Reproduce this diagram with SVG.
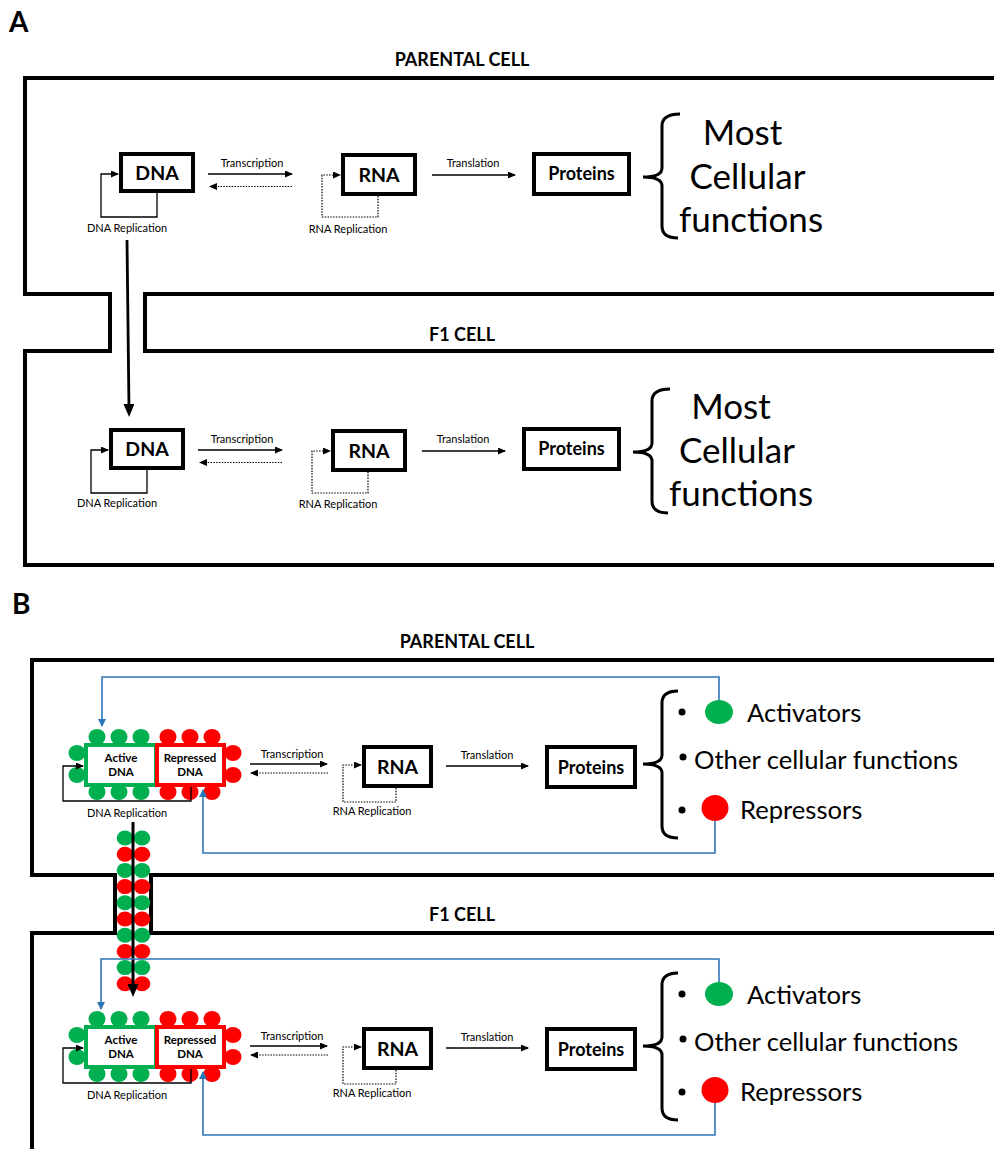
<svg xmlns="http://www.w3.org/2000/svg" width="994" height="1149" viewBox="0 0 994 1149">
<defs>
<style>
text{font-family:Lato,"Liberation Sans",sans-serif;fill:#000}
.b{font-weight:bold}
.sm{font-size:11px;text-anchor:middle}
.box{fill:#fff;stroke:#000;stroke-width:4}
.gbox{fill:#fff;stroke:#00B050;stroke-width:4}
.rbox{fill:#fff;stroke:#FF0000;stroke-width:4}
.wall{fill:none;stroke:#000;stroke-width:4}
.ln{fill:none;stroke:#000;stroke-width:1.3}
.dt{fill:none;stroke:#000;stroke-width:1.2;stroke-dasharray:1.5 1.3}
.bl{fill:none;stroke:#2E75B6;stroke-width:1.6}
.br{fill:none;stroke:#000;stroke-width:3}
.g{fill:#00B050}
.r{fill:#FF0000}
.big{font-size:35px;text-anchor:middle}
.mid{font-size:25.6px}
</style>
<marker id="ah" markerUnits="userSpaceOnUse" markerWidth="8" markerHeight="7" refX="7" refY="3.5" orient="auto"><path d="M0,0 L8,3.5 L0,7 z" fill="#000"/></marker>
<marker id="ahb" markerUnits="userSpaceOnUse" markerWidth="8" markerHeight="8" refX="7" refY="4" orient="auto"><path d="M0,0 L8,4 L0,8 z" fill="#2E75B6"/></marker>
<marker id="ahL" markerUnits="userSpaceOnUse" markerWidth="13" markerHeight="11" refX="5" refY="5.5" orient="auto"><path d="M0,0 L13,5.5 L0,11 z" fill="#000"/></marker>
</defs>
<rect width="994" height="1149" fill="#fff"/>

<!-- Panel labels -->
<g id="labels">
<text x="9" y="32" class="b" font-size="28">A</text>
<text x="12" y="614" class="b" font-size="28">B</text>
<text x="462" y="66" class="b" font-size="18" text-anchor="middle">PARENTAL CELL</text>
<text x="462" y="341" class="b" font-size="18" text-anchor="middle">F1 CELL</text>
<text x="467" y="648" class="b" font-size="18" text-anchor="middle">PARENTAL CELL</text>
<text x="462" y="921" class="b" font-size="18" text-anchor="middle">F1 CELL</text>
</g>

<!-- Cell walls -->
<g id="cells">
<path class="wall" d="M994,78 H25 V294 H110 V351 H25 V565 H994"/>
<path class="wall" d="M994,294 H145 V351 H994"/>
<path class="wall" d="M994,660 H32 V875 H115 V933 H32 V1149"/>
<path class="wall" d="M994,875 H151 V933 H994"/>
</g>

<!-- Panel A parental -->
<g id="a-par-dna"><rect class="box" x="121" y="154" width="72" height="37"/><text x="157" y="180" class="b" font-size="19.5" text-anchor="middle">DNA</text></g>
<g id="a-par-rna"><rect class="box" x="343" y="155" width="72" height="39"/><text x="379" y="182" class="b" font-size="19.5" text-anchor="middle">RNA</text></g>
<g id="a-par-proteins"><rect class="box" x="534" y="154" width="95" height="40"/><text x="581.5" y="180" class="b" font-size="18" text-anchor="middle">Proteins</text></g>
<g id="a-par-functions">
<path class="br" d="M680,114 Q662,114 662,126 L662,168 Q662,177 643,177 Q662,177 662,186 L662,226 Q662,238 678,238"/>
<text x="742.5" y="145" class="big">Most</text>
<text x="747.5" y="189" class="big">Cellular</text>
<text x="751" y="232" class="big">functions</text>
</g>

<!-- Panel A F1 -->
<g id="a-f1-dna"><rect class="box" x="111" y="430" width="72" height="38"/><text x="147" y="456" class="b" font-size="19.5" text-anchor="middle">DNA</text></g>
<g id="a-f1-rna"><rect class="box" x="333" y="431" width="72" height="39"/><text x="369" y="458" class="b" font-size="19.5" text-anchor="middle">RNA</text></g>
<g id="a-f1-proteins"><rect class="box" x="524" y="429" width="95" height="40"/><text x="571.5" y="455" class="b" font-size="18" text-anchor="middle">Proteins</text></g>
<g id="a-f1-functions">
<path class="br" d="M670,389 Q652,389 652,401 L652,443 Q652,452 633,452 Q652,452 652,461 L652,501 Q652,513 668,513"/>
<text x="731" y="419" class="big">Most</text>
<text x="737" y="463" class="big">Cellular</text>
<text x="741" y="506" class="big">functions</text>
</g>

<!-- Panel B parental -->
<g id="b-par-dna">
<ellipse class="g" cx="97" cy="737" rx="8.5" ry="8"/><ellipse class="g" cx="119" cy="737" rx="8.5" ry="8"/><ellipse class="g" cx="141" cy="737" rx="8.5" ry="8"/>
<ellipse class="r" cx="168" cy="737" rx="8.5" ry="8"/><ellipse class="r" cx="190" cy="737" rx="8.5" ry="8"/><ellipse class="r" cx="212" cy="737" rx="8.5" ry="8"/>
<ellipse class="g" cx="97" cy="792" rx="8.5" ry="8"/><ellipse class="g" cx="119" cy="792" rx="8.5" ry="8"/><ellipse class="g" cx="141" cy="792" rx="8.5" ry="8"/>
<ellipse class="r" cx="168" cy="792" rx="8.5" ry="8"/><ellipse class="r" cx="190" cy="792" rx="8.5" ry="8"/><ellipse class="r" cx="212" cy="792" rx="8.5" ry="8"/>
<ellipse class="g" cx="77" cy="753" rx="8.5" ry="8"/><ellipse class="g" cx="77" cy="775" rx="8.5" ry="8"/>
<ellipse class="r" cx="233" cy="753" rx="8.5" ry="8"/><ellipse class="r" cx="233" cy="775" rx="8.5" ry="8"/>
<rect class="gbox" x="86" y="745" width="70" height="40"/>
<rect class="rbox" x="157" y="745" width="67" height="40"/>
<text x="121" y="762" class="b" font-size="11.5" text-anchor="middle">Active</text>
<text x="121" y="776" class="b" font-size="11.5" text-anchor="middle">DNA</text>
<text x="190" y="762" class="b" font-size="11.5" text-anchor="middle">Repressed</text>
<text x="190" y="776" class="b" font-size="11.5" text-anchor="middle">DNA</text>
</g>
<g id="b-par-rna"><rect class="box" x="364" y="747" width="67" height="39"/><text x="397.5" y="774" class="b" font-size="19.5" text-anchor="middle">RNA</text></g>
<g id="b-par-proteins"><rect class="box" x="547" y="747" width="88" height="40"/><text x="591" y="774" class="b" font-size="18" text-anchor="middle">Proteins</text></g>
<g id="b-par-functions">
<path class="br" d="M678,691 Q662,691 662,703 L662,755 Q662,764 643,764 Q662,764 662,773 L662,826 Q662,838 678,838"/>
<circle cx="682" cy="712" r="3.5"/><circle cx="683" cy="757" r="3.5"/><circle cx="682" cy="810" r="3.5"/>
<ellipse class="g" cx="719" cy="712" rx="14" ry="12"/>
<ellipse class="r" cx="715" cy="808" rx="13.5" ry="13"/>
<text x="747" y="722" class="mid">Activators</text>
<text x="694" y="769" class="mid">Other cellular functions</text>
<text x="740" y="819" class="mid">Repressors</text>
</g>

<!-- Chromatin stack -->
<g id="b-stack">
<ellipse class="g" cx="125" cy="838" rx="8.3" ry="7.5"/><ellipse class="g" cx="142" cy="838" rx="8.3" ry="7.5"/>
<ellipse class="r" cx="125" cy="854.2" rx="8.3" ry="7.5"/><ellipse class="r" cx="142" cy="854.2" rx="8.3" ry="7.5"/>
<ellipse class="g" cx="125" cy="870.4" rx="8.3" ry="7.5"/><ellipse class="g" cx="142" cy="870.4" rx="8.3" ry="7.5"/>
<ellipse class="r" cx="125" cy="886.6" rx="8.3" ry="7.5"/><ellipse class="r" cx="142" cy="886.6" rx="8.3" ry="7.5"/>
<ellipse class="g" cx="125" cy="902.8" rx="8.3" ry="7.5"/><ellipse class="g" cx="142" cy="902.8" rx="8.3" ry="7.5"/>
<ellipse class="r" cx="125" cy="919" rx="8.3" ry="7.5"/><ellipse class="r" cx="142" cy="919" rx="8.3" ry="7.5"/>
<ellipse class="g" cx="125" cy="935.2" rx="8.3" ry="7.5"/><ellipse class="g" cx="142" cy="935.2" rx="8.3" ry="7.5"/>
<ellipse class="r" cx="125" cy="951.4" rx="8.3" ry="7.5"/><ellipse class="r" cx="142" cy="951.4" rx="8.3" ry="7.5"/>
<ellipse class="g" cx="125" cy="967.6" rx="8.3" ry="7.5"/><ellipse class="g" cx="142" cy="967.6" rx="8.3" ry="7.5"/>
<ellipse class="r" cx="125" cy="983.8" rx="8.3" ry="7.5"/><ellipse class="r" cx="142" cy="983.8" rx="8.3" ry="7.5"/>
</g>

<!-- Panel B F1 -->
<g id="b-f1-dna">
<ellipse class="g" cx="97" cy="1019" rx="8.5" ry="8"/><ellipse class="g" cx="119" cy="1019" rx="8.5" ry="8"/><ellipse class="g" cx="141" cy="1019" rx="8.5" ry="8"/>
<ellipse class="r" cx="168" cy="1019" rx="8.5" ry="8"/><ellipse class="r" cx="190" cy="1019" rx="8.5" ry="8"/><ellipse class="r" cx="212" cy="1019" rx="8.5" ry="8"/>
<ellipse class="g" cx="97" cy="1074" rx="8.5" ry="8"/><ellipse class="g" cx="119" cy="1074" rx="8.5" ry="8"/><ellipse class="g" cx="141" cy="1074" rx="8.5" ry="8"/>
<ellipse class="r" cx="168" cy="1074" rx="8.5" ry="8"/><ellipse class="r" cx="190" cy="1074" rx="8.5" ry="8"/><ellipse class="r" cx="212" cy="1074" rx="8.5" ry="8"/>
<ellipse class="g" cx="77" cy="1035" rx="8.5" ry="8"/><ellipse class="g" cx="77" cy="1057" rx="8.5" ry="8"/>
<ellipse class="r" cx="233" cy="1035" rx="8.5" ry="8"/><ellipse class="r" cx="233" cy="1057" rx="8.5" ry="8"/>
<rect class="gbox" x="86" y="1027" width="70" height="40"/>
<rect class="rbox" x="157" y="1027" width="67" height="40"/>
<text x="121" y="1044" class="b" font-size="11.5" text-anchor="middle">Active</text>
<text x="121" y="1058" class="b" font-size="11.5" text-anchor="middle">DNA</text>
<text x="190" y="1044" class="b" font-size="11.5" text-anchor="middle">Repressed</text>
<text x="190" y="1058" class="b" font-size="11.5" text-anchor="middle">DNA</text>
</g>
<g id="b-f1-rna"><rect class="box" x="364" y="1029" width="67" height="39"/><text x="397.5" y="1056" class="b" font-size="19.5" text-anchor="middle">RNA</text></g>
<g id="b-f1-proteins"><rect class="box" x="547" y="1029" width="88" height="40"/><text x="591" y="1056" class="b" font-size="18" text-anchor="middle">Proteins</text></g>
<g id="b-f1-functions">
<path class="br" d="M678,973 Q662,973 662,985 L662,1037 Q662,1046 643,1046 Q662,1046 662,1055 L662,1108 Q662,1120 678,1120"/>
<circle cx="682" cy="994" r="3.5"/><circle cx="683" cy="1039" r="3.5"/><circle cx="682" cy="1092" r="3.5"/>
<ellipse class="g" cx="719" cy="994" rx="14" ry="12"/>
<ellipse class="r" cx="715" cy="1090" rx="13.5" ry="13"/>
<text x="747" y="1004" class="mid">Activators</text>
<text x="694" y="1051" class="mid">Other cellular functions</text>
<text x="740" y="1101" class="mid">Repressors</text>
</g>

<!-- Connectors -->
<g id="connectors">
<path class="ln" d="M157,193 V217 H101 V174 H118" marker-end="url(#ah)"/>
<path class="ln" d="M208,174 H292" marker-end="url(#ah)"/>
<path class="dt" d="M292,186.5 H210" marker-end="url(#ah)"/>
<path class="dt" d="M378,196 V217 H322 V175 H340" marker-end="url(#ah)"/>
<path class="ln" d="M432,175 H515" marker-end="url(#ah)"/>
<path d="M127,240 L129,409" fill="none" stroke="#000" stroke-width="2.8" marker-end="url(#ahL)"/>
<path class="ln" d="M147,470 V493 H91 V450 H108" marker-end="url(#ah)"/>
<path class="ln" d="M198,450 H282" marker-end="url(#ah)"/>
<path class="dt" d="M282,462.5 H200" marker-end="url(#ah)"/>
<path class="dt" d="M368,472 V493 H312 V451 H330" marker-end="url(#ah)"/>
<path class="ln" d="M422,451 H505" marker-end="url(#ah)"/>
<path class="ln" d="M191,787 V801 H63 V766 H83" marker-end="url(#ah)"/>
<path class="ln" d="M250,764 H327" marker-end="url(#ah)"/>
<path class="dt" d="M328,773 H251" marker-end="url(#ah)"/>
<path class="dt" d="M396,788 V802 H343 V765 H361" marker-end="url(#ah)"/>
<path class="ln" d="M446,766 H528" marker-end="url(#ah)"/>
<path class="bl" d="M719,700 V677 H102 V726" marker-end="url(#ahb)"/>
<path class="bl" d="M715,821 V853 H203 V790" marker-end="url(#ahb)"/>
<path d="M133,822 V989" fill="none" stroke="#000" stroke-width="3" marker-end="url(#ahL)"/>
<path class="ln" d="M191,1069 V1083 H63 V1048 H83" marker-end="url(#ah)"/>
<path class="ln" d="M250,1046 H327" marker-end="url(#ah)"/>
<path class="dt" d="M328,1055 H251" marker-end="url(#ah)"/>
<path class="dt" d="M396,1070 V1084 H343 V1047 H361" marker-end="url(#ah)"/>
<path class="ln" d="M446,1048 H528" marker-end="url(#ah)"/>
<path class="bl" d="M719,982 V959 H101 V1009" marker-end="url(#ahb)"/>
<path class="bl" d="M715,1103 V1135 H203 V1072" marker-end="url(#ahb)"/>
</g>

<!-- Connector labels -->
<g id="connector-labels">
<text x="252" y="166.5" class="sm">Transcription</text>
<text x="473" y="166.5" class="sm">Translation</text>
<text x="127" y="231.5" class="sm">DNA Replication</text>
<text x="348" y="232.5" class="sm">RNA Replication</text>
<text x="242" y="442.5" class="sm">Transcription</text>
<text x="463" y="442.5" class="sm">Translation</text>
<text x="117" y="507" class="sm">DNA Replication</text>
<text x="338" y="508" class="sm">RNA Replication</text>
<text x="292" y="758" class="sm">Transcription</text>
<text x="487" y="759" class="sm">Translation</text>
<text x="127" y="817" class="sm">DNA Replication</text>
<text x="372" y="815" class="sm">RNA Replication</text>
<text x="292" y="1040" class="sm">Transcription</text>
<text x="487" y="1041" class="sm">Translation</text>
<text x="127" y="1099" class="sm">DNA Replication</text>
<text x="372" y="1097" class="sm">RNA Replication</text>
</g>
</svg>
